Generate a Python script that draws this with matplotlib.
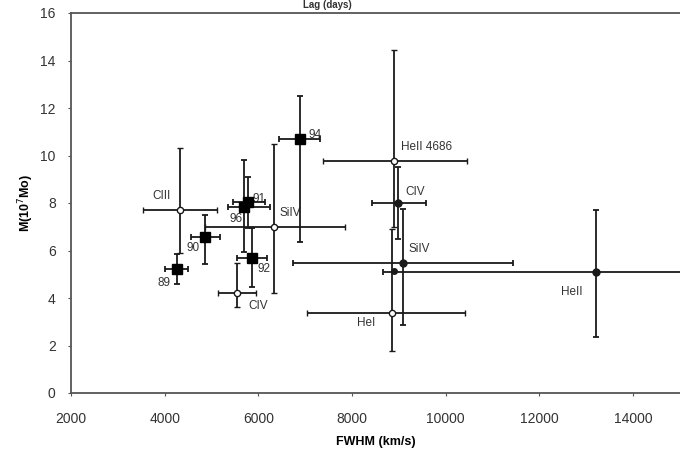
import numpy as np
import matplotlib.pyplot as plt

plt.rcParams['font.family'] = ['Liberation Sans', 'DejaVu Sans']

# yearly points (filled squares)
yr_labels = ['89', '90', '96', '91', '92', '94']
yr_x = [4260, 4860, 5690, 5780, 5860, 6890]
yr_y = [5.22, 6.57, 7.85, 8.05, 5.68, 10.7]
yr_xlo = [4000, 4560, 5350, 5450, 5540, 6440]
yr_xhi = [4500, 5180, 6250, 6150, 6180, 7310]
yr_ylo = [4.6, 5.43, 5.95, 6.95, 4.46, 6.36]
yr_yhi = [5.85, 7.5, 9.8, 9.1, 6.95, 12.5]

# lines, open circles
op_labels = ['CIII', 'CIV', 'SiIV', 'HeII 4686', 'HeI']
op_x = [4330, 5540, 6330, 8890, 8850]
op_y = [7.7, 4.21, 6.99, 9.77, 3.37]
op_xlo = [3540, 5140, 4860, 7380, 7040]
op_xhi = [5120, 5950, 7850, 10450, 10420]
op_ylo = [5.9, 3.62, 4.2, 7.0, 1.77]
op_yhi = [10.3, 5.47, 10.5, 14.45, 6.9]

# lines, filled circles
fc_labels = ['CIV', 'SiIV', 'HeII']
fc_x = [8980, 9085, 13200]
fc_y = [8.0, 5.47, 5.09]
fc_xlo = [8420, 6740, 8660]
fc_xhi = [9580, 11440, 16500]
fc_ylo = [6.5, 2.86, 2.36]
fc_yhi = [9.5, 7.75, 7.7]

extra_x = [8890]
extra_y = [5.14]

fig = plt.figure(figsize=(6.8, 4.51), dpi=100)
ax = fig.add_axes([71/680, 58/451, 609/680, 380/451])

ink = '#1a1a1a'


def draw(x, y, xlo, xhi, ylo, yhi, **kw):
    x = np.array(x); y = np.array(y)
    xerr = [x - np.array(xlo), np.array(xhi) - x]
    yerr = [y - np.array(ylo), np.array(yhi) - y]
    ax.errorbar(x, y, xerr=xerr, yerr=yerr, ecolor=ink, elinewidth=1.3,
                capsize=2.5, capthick=1.3, linestyle='none', **kw)


draw(op_x, op_y, op_xlo, op_xhi, op_ylo, op_yhi, marker='o', ms=4.5,
     mfc='white', mec=ink, mew=1.0, zorder=3)
draw(fc_x, fc_y, fc_xlo, fc_xhi, fc_ylo, fc_yhi, marker='o', ms=5,
     mfc=ink, mec=ink, zorder=3)
draw(yr_x, yr_y, yr_xlo, yr_xhi, yr_ylo, yr_yhi, marker='s', ms=7.5,
     mfc='black', mec='black', zorder=4)
ax.plot(extra_x, extra_y, 'o', ms=4, color=ink, zorder=4)

# labels: offsets in points
lab_fs = 8.5
lab_col = '#333333'
yr_off = {'89': (-14, -10), '90': (-13, -8), '96': (-10, -9), '91': (3, 2),
          '92': (4, -8), '94': (6, 3)}
for lab, x, y in zip(yr_labels, yr_x, yr_y):
    dx, dy = yr_off[lab]
    ax.annotate(lab, (x, y), xytext=(dx, dy), textcoords='offset points',
                fontsize=lab_fs, color=lab_col, va='center', ha='left')

op_off = {'CIII': (-20, 10), 'CIV': (8, -9), 'SiIV': (4, 10),
          'HeII 4686': (5, 10), 'HeI': (-25, -7)}
for lab, x, y in zip(op_labels, op_x, op_y):
    dx, dy = op_off[lab]
    ax.annotate(lab, (x, y), xytext=(dx, dy), textcoords='offset points',
                fontsize=lab_fs, color=lab_col, va='center', ha='left')

fc_off = {'CIV': (5, 8), 'SiIV': (4, 10), 'HeII': (-25, -14)}
for lab, x, y in zip(fc_labels, fc_x, fc_y):
    dx, dy = fc_off[lab]
    ax.annotate(lab, (x, y), xytext=(dx, dy), textcoords='offset points',
                fontsize=lab_fs, color=lab_col, va='center', ha='left')

ax.set_xlim(2000, 15000)
ax.set_ylim(0, 16)
ax.set_xticks(np.arange(2000, 15000, 2000))
ax.set_yticks(np.arange(0, 17, 2))
ax.tick_params(length=2, color='#555555', labelsize=10, labelcolor='#333333')
ax.tick_params(axis='x', pad=12)
ax.tick_params(axis='y', pad=9)
for s in ['left', 'bottom', 'top']:
    ax.spines[s].set_color('#555555')
    ax.spines[s].set_linewidth(1.3)
ax.spines['right'].set_visible(False)

ax.set_xlabel('FWHM (km/s)', fontsize=9, fontweight='bold', labelpad=7)
ax.set_ylabel('M(10$^7$Mo)', fontsize=9, fontweight='bold', labelpad=3)

fig.text(0.482, 0.999, 'Lag (days)', ha='center', va='top', fontsize=7,
         fontweight='bold', color='#333333')

fig.savefig('out.png', dpi=100)
